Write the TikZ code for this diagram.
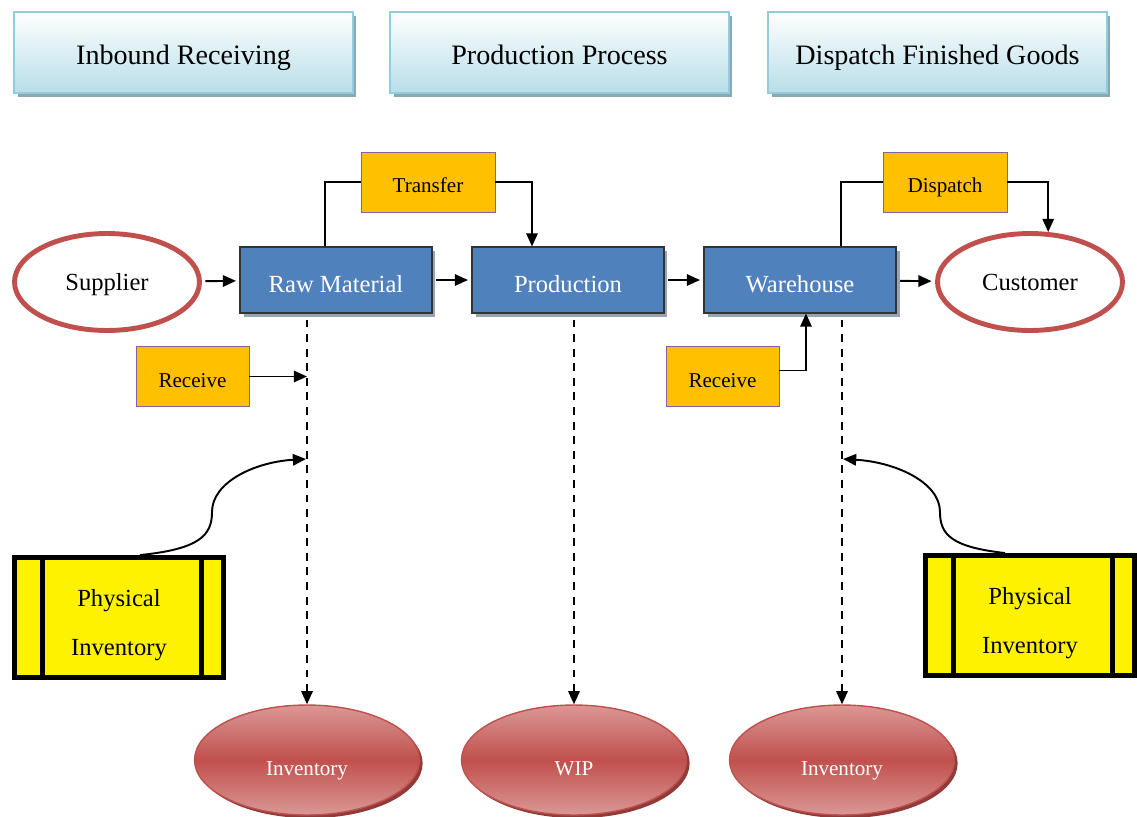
\documentclass[tikz,border=0pt]{standalone}
\usepackage{fontspec}
\setmainfont{Liberation Serif}
\usepackage{tikz}
\usetikzlibrary{calc}
\usetikzlibrary{shapes}
\usetikzlibrary{arrows.meta}
\usetikzlibrary{shadows}
\definecolor{headborder}{HTML}{93CDDD}
\definecolor{headfill}{HTML}{B7DEE8}
\definecolor{headshadow}{HTML}{8DA7AE}
\definecolor{procblue}{HTML}{4F81BD}
\definecolor{procshadow}{HTML}{98A4B4}
\definecolor{taskorange}{HTML}{FFC000}
\definecolor{taskborder}{HTML}{8064A2}
\definecolor{endred}{HTML}{C0504D}
\definecolor{invlight}{HTML}{DA9896}
\definecolor{invshadow}{HTML}{8E3B39}

\begin{document}
\begin{tikzpicture}[x = 0.02cm, y = -0.02cm]
            % Define styles
            \tikzstyle{header} = [draw=headborder,line width=1pt,top color=white,bottom color=headfill,minimum width=6.78cm,minimum height=1.62cm,general shadow={fill=headshadow,shadow xshift=2pt,shadow yshift=-2pt},font=\fontsize{16}{18}\selectfont,text height=13.4pt,text depth=0pt]
            \tikzstyle{procbox} = [draw=black!80,line width=.6pt,fill=procblue,text=white,minimum width=3.84cm,minimum height=1.32cm,general shadow={fill=procshadow,shadow xshift=2pt,shadow yshift=-2.2pt},font=\fontsize{14}{16}\selectfont,text height=13.7pt,text depth=0pt]
            \tikzstyle{taskbox} = [draw=taskborder,line width=.5pt,fill=taskorange,minimum height=1.2cm,font=\fontsize{12}{14}\selectfont,text height=12.5pt,text depth=0pt]
            \tikzstyle{endpoint} = [draw=endred,line width=2.8pt,ellipse,minimum width=3.7cm,minimum height=1.94cm,font=\fontsize{14}{16}\selectfont,text height=9.2pt,text depth=0pt]
            \tikzstyle{store} = [ellipse,draw=endred,line width=.8pt,top color=invlight,bottom color=invlight,middle color=endred,text=white,minimum width=4.5cm,minimum height=2.2cm,general shadow={fill=invshadow,shadow xshift=1.8pt,shadow yshift=-1.8pt},font=\fontsize{12}{14}\selectfont,text height=18pt,text depth=0pt]
            \tikzstyle{count} = [draw=black,line width=2.8pt,fill=yellow,minimum width=4.18cm,minimum height=2.4cm]
            \tikzstyle{counttext} = [align=center,yshift=-4.2pt,font=\fontsize{14}{28}\selectfont]
            \tikzstyle{flowarrow} = [line width=1.1pt,-{Triangle[length=7.5pt,width=6.5pt]},shorten >=2pt,shorten <=2pt]
            \tikzstyle{flowline} = [line width=1.1pt]
            \tikzstyle{flowtip} = [line width=1.1pt,-{Triangle[length=7.5pt,width=6.5pt]}]
            \tikzstyle{stockline} = [line width=1.1pt,dash pattern=on 4.5pt off 3.8pt,-{Triangle[length=7.5pt,width=6.5pt]}]
            % Stage headers
            	\node (hin) at (183.5,52.5) [header] {Inbound Receiving};
            	\node (hprod) at (559.5,52.5) [header] {Production Process};
            	\node (hout) at (937.5,52.5) [header] {Dispatch Finished Goods};
            % Main flow
            	% End points
            	\node (sup) at (107,282) [endpoint] {Supplier};
            	\node (cust) at (1030,282) [endpoint] {Customer};
            	% Process boxes
            	\node (raw) at (336,280) [procbox] {Raw Material};
            	\node (prod) at (568,280) [procbox] {Production};
            	\node (ware) at (800,280) [procbox] {Warehouse};
            % Tasks
            	\node (transfer) at (428,182) [taskbox,minimum width=2.68cm] {Transfer};
            	\node (dispatch) at (945,182) [taskbox,minimum width=2.48cm] {Dispatch};
            	\node (recv1) at (192.5,376.5) [taskbox,minimum width=2.26cm] {Receive};
            	\node (recv2) at (722.5,376.5) [taskbox,minimum width=2.26cm] {Receive};
            % Stock
            	\node (inv1) at (307,760) [store] {Inventory};
            	\node (wip) at (574,760) [store] {WIP};
            	\node (inv2) at (842,760) [store] {Inventory};
            % Physical inventory
            	\node (phys1) at (119,617.5) [count,label={[name=phys1txt,counttext]center:Physical\\Inventory}] {};
            	\node (phys2) at (1030,615.5) [count,label={[name=phys2txt,counttext]center:Physical\\Inventory}] {};
            	\draw [line width=2.8pt] ($(phys1.north west)+(30,0)$) -- ($(phys1.south west)+(30,0)$);
            	\draw [line width=2.8pt] ($(phys1.north east)+(-24,0)$) -- ($(phys1.south east)+(-24,0)$);
            	\draw [line width=2.8pt] ($(phys2.north west)+(30,0)$) -- ($(phys2.south west)+(30,0)$);
            	\draw [line width=2.8pt] ($(phys2.north east)+(-24,0)$) -- ($(phys2.south east)+(-24,0)$);
            % Points where the counts meet the stock lines
            	\coordinate (tap1) at (306,459);
            	\coordinate (tap2) at (843,459);
            % Lines and arrows
            	% Main flow
            	\draw [flowarrow] (sup) -- (raw);
            	\draw [flowarrow] (raw) -- (prod);
            	\draw [flowarrow] (prod) -- (ware);
            	\draw [flowarrow] (ware) -- (cust);
            	% Transfer and dispatch
            	\draw [flowline] ($(raw.north)+(-11,0)$) |- (transfer.west);
            	\draw [flowtip] (transfer.east) -| ($(prod.north)+(-36,0)$);
            	\draw [flowline] ($(ware.north)+(41,0)$) |- (dispatch.west);
            	\draw [flowtip] (dispatch.east) -| (cust.70);
            	% Receiving
            	\draw [flowtip] (recv1.east) -- (recv1.east -| inv1.north);
            	\draw [flowtip] ($(recv2.east)+(0,-6)$) -| ($(ware.south)+(6,0)$);
            	% Stock lines
            	\draw [stockline] ($(raw.south -| inv1.north)+(0,6)$) -- (inv1.north);
            	\draw [stockline] ($(prod.south -| wip.north)+(0,6)$) -- (wip.north);
            	\draw [stockline] ($(ware.south -| inv2.north)+(0,6)$) -- (inv2.north);
            	% Counts
            	\draw [flowtip] ($(phys1.north)+(21,0)$) .. controls (200,549) and (212,535) .. (212,512) .. controls (212,482) and (255,462) .. (tap1);
            	\draw [flowtip] ($(phys2.north)+(-25,0)$) .. controls (952,547) and (940,535) .. (940,512) .. controls (940,482) and (895,462) .. (tap2);
            \useasboundingbox (0,0) rectangle (1137,816);
\end{tikzpicture}
\end{document}
